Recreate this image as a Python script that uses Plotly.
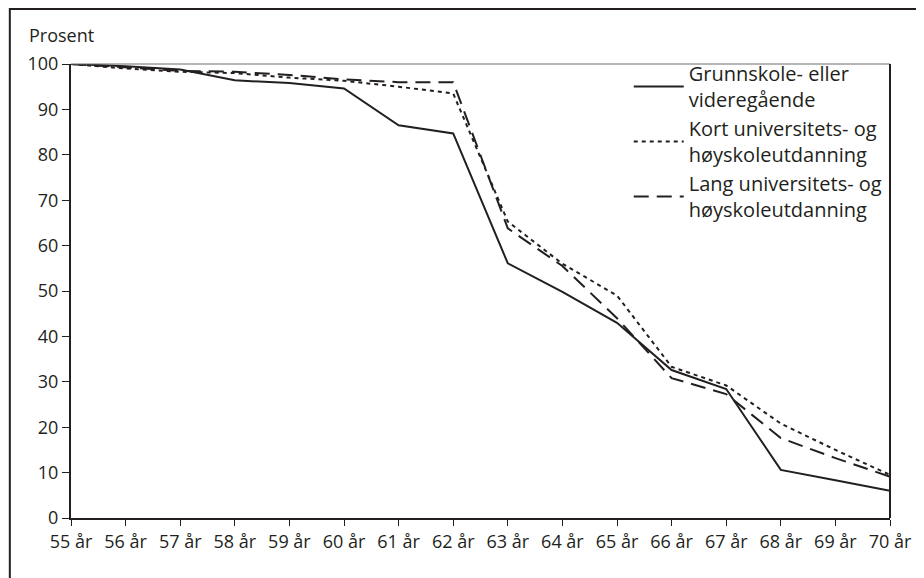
import plotly.graph_objects as go

ages = ['55 år', '56 år', '57 år', '58 år', '59 år', '60 år', '61 år', '62 år',
        '63 år', '64 år', '65 år', '66 år', '67 år', '68 år', '69 år', '70 år']

grunnskole = [100, 99.5, 98.8, 96.4, 95.8, 94.6, 86.5, 84.7,
              56.1, 49.8, 43.0, 32.6, 28.4, 10.6, 8.3, 6.0]
kort = [100, 99.0, 98.3, 98.0, 97.0, 96.3, 95.0, 93.5,
        65.3, 56.0, 49.0, 33.3, 29.2, 20.8, 15.0, 9.5]
lang = [100, 99.3, 98.5, 98.3, 97.6, 96.6, 96.0, 96.0,
        63.8, 55.5, 44.0, 30.8, 27.3, 17.6, 13.2, 9.1]

names = ['Grunnskole- eller<br>videregående',
         'Kort universitets- og<br>høyskoleutdanning',
         'Lang universitets- og<br>høyskoleutdanning']

ink = '#231f20'
font = 'Open Sans, Noto Sans, sans-serif'

fig = go.Figure()
fig.add_trace(go.Scatter(x=ages, y=grunnskole, mode='lines', name=names[0],
                         line=dict(color=ink, width=2)))
fig.add_trace(go.Scatter(x=ages, y=kort, mode='lines', name=names[1],
                         line=dict(color=ink, width=2, dash='4px,4px')))
fig.add_trace(go.Scatter(x=ages, y=lang, mode='lines', name=names[2],
                         line=dict(color=ink, width=2, dash='15px,8px')))

# page body adds an 8px offset, so the figure is 8px smaller than the window
fig.update_layout(
    width=916, height=570,
    margin=dict(l=63, r=23, t=56, b=60),
    plot_bgcolor='white', paper_bgcolor='white',
    font=dict(family=font, size=18, color=ink),
    legend=dict(x=0.681, y=1.022, xanchor='left', yanchor='top', itemwidth=50,
                bgcolor='rgba(0,0,0,0)', font=dict(size=20, color=ink)),
    annotations=[dict(text='Prosent', xref='paper', yref='paper', x=-0.0542, y=1.064,
                      xanchor='left', yanchor='middle', showarrow=False,
                      font=dict(size=18, color=ink))],
    shapes=[
        # outer frame (right and bottom edges fall outside the picture)
        dict(type='rect', xref='paper', yref='paper', x0=-0.0747, x1=2,
             y0=-1, y1=1.1211, line=dict(color=ink, width=2)),
        # thin grey line along the top of the plot
        dict(type='line', xref='paper', yref='paper', x0=0, x1=1, y0=1, y1=1,
             line=dict(color='#6d6d6d', width=1)),
        # right edge of the plot
        dict(type='line', xref='paper', yref='paper', x0=1, x1=1, y0=0, y1=1,
             line=dict(color=ink, width=2)),
    ],
)
fig.update_xaxes(showgrid=False, showline=True, linecolor=ink, linewidth=2,
                 ticks='outside', ticklen=6, tickcolor=ink, tickwidth=1,
                 range=[0, 15], tickfont=dict(size=18, color=ink))
fig.update_yaxes(showgrid=False, showline=True, linecolor=ink, linewidth=2,
                 ticks='outside', ticklen=7, tickcolor=ink, tickwidth=1,
                 range=[0, 100], dtick=10, zeroline=False,
                 tickfont=dict(size=18, color=ink))

fig.write_html('out.html')
